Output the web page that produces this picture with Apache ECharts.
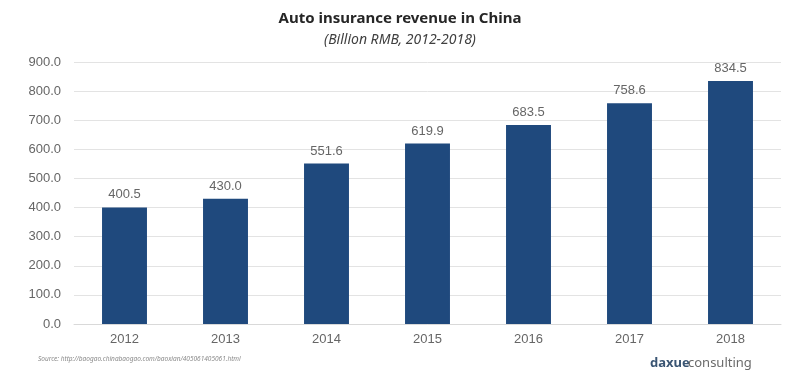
<!DOCTYPE html>
<html><head><meta charset="utf-8">
<script src="https://cdn.jsdelivr.net/npm/echarts@6/dist/echarts.min.js"></script>
<style>html,body{margin:0;padding:0;background:#fff}#c{width:800px;height:381px}</style>
</head><body><div id="c"></div>
<script>
const categories = ['2012','2013','2014','2015','2016','2017','2018'];
const revenue = [400.5, 430.0, 551.6, 619.9, 683.5, 758.6, 834.5];
const yTicks = [0,100,200,300,400,500,600,700,800,900];

const chart = echarts.init(document.getElementById('c'));
chart.setOption({
  animation: false,
  title: [{
    text: 'Auto insurance revenue in China',
    left: 'center', top: 6,
    textStyle: {fontFamily: 'Noto Sans', fontSize: 15, fontWeight: 'bold', color: '#262626'}
  },{
    text: '(Billion RMB, 2012-2018)',
    left: 'center', top: 28,
    textStyle: {fontFamily: 'Noto Sans', fontSize: 14, fontStyle: 'italic', fontWeight: 'normal', color: '#404040'}
  }],
  grid: {left: 74, right: 19, top: 62, bottom: 57},
  xAxis: {
    type: 'category', data: categories,
    axisLine: {lineStyle: {color: '#d9d9d9'}},
    axisTick: {show: false},
    axisLabel: {color: '#666666', fontFamily: 'Liberation Sans', fontSize: 13, margin: 9}
  },
  yAxis: {
    type: 'value', min: yTicks[0], max: yTicks[yTicks.length-1], interval: 100,
    axisLine: {show: false}, axisTick: {show: false},
    splitLine: {lineStyle: {color: '#e3e3e3'}},
    axisLabel: {color: '#666666', fontFamily: 'Liberation Sans', fontSize: 13, margin: 13,
      formatter: v => v.toFixed(1)}
  },
  series: [{
    type: 'bar', data: revenue, barWidth: '44.5%',
    itemStyle: {color: '#1f497d'},
    label: {show: true, position: 'top', distance: 6, color: '#666666', fontFamily: 'Liberation Sans', fontSize: 13,
      formatter: p => p.value.toFixed(1)}
  }],
  graphic: [{
    type: 'text', left: 38, top: 356,
    style: {text: 'Source: http://baogao.chinabaogao.com/baoxian/405061405061.html', fontSize: 6.5,
      fontStyle: 'italic', fontFamily: 'Noto Sans', fill: '#8a8a8a'}
  },{
    type: 'text', left: 650, top: 357,
    style: {text: 'daxue', fontSize: 13, fontFamily: 'Noto Sans', fontWeight: 'bold', fill: '#3a5573'}
  },{
    type: 'text', left: 688, top: 357,
    style: {text: 'consulting', fontSize: 13, fontFamily: 'Noto Sans', fill: '#6b6b6b'}
  }]
});
</script></body></html>
